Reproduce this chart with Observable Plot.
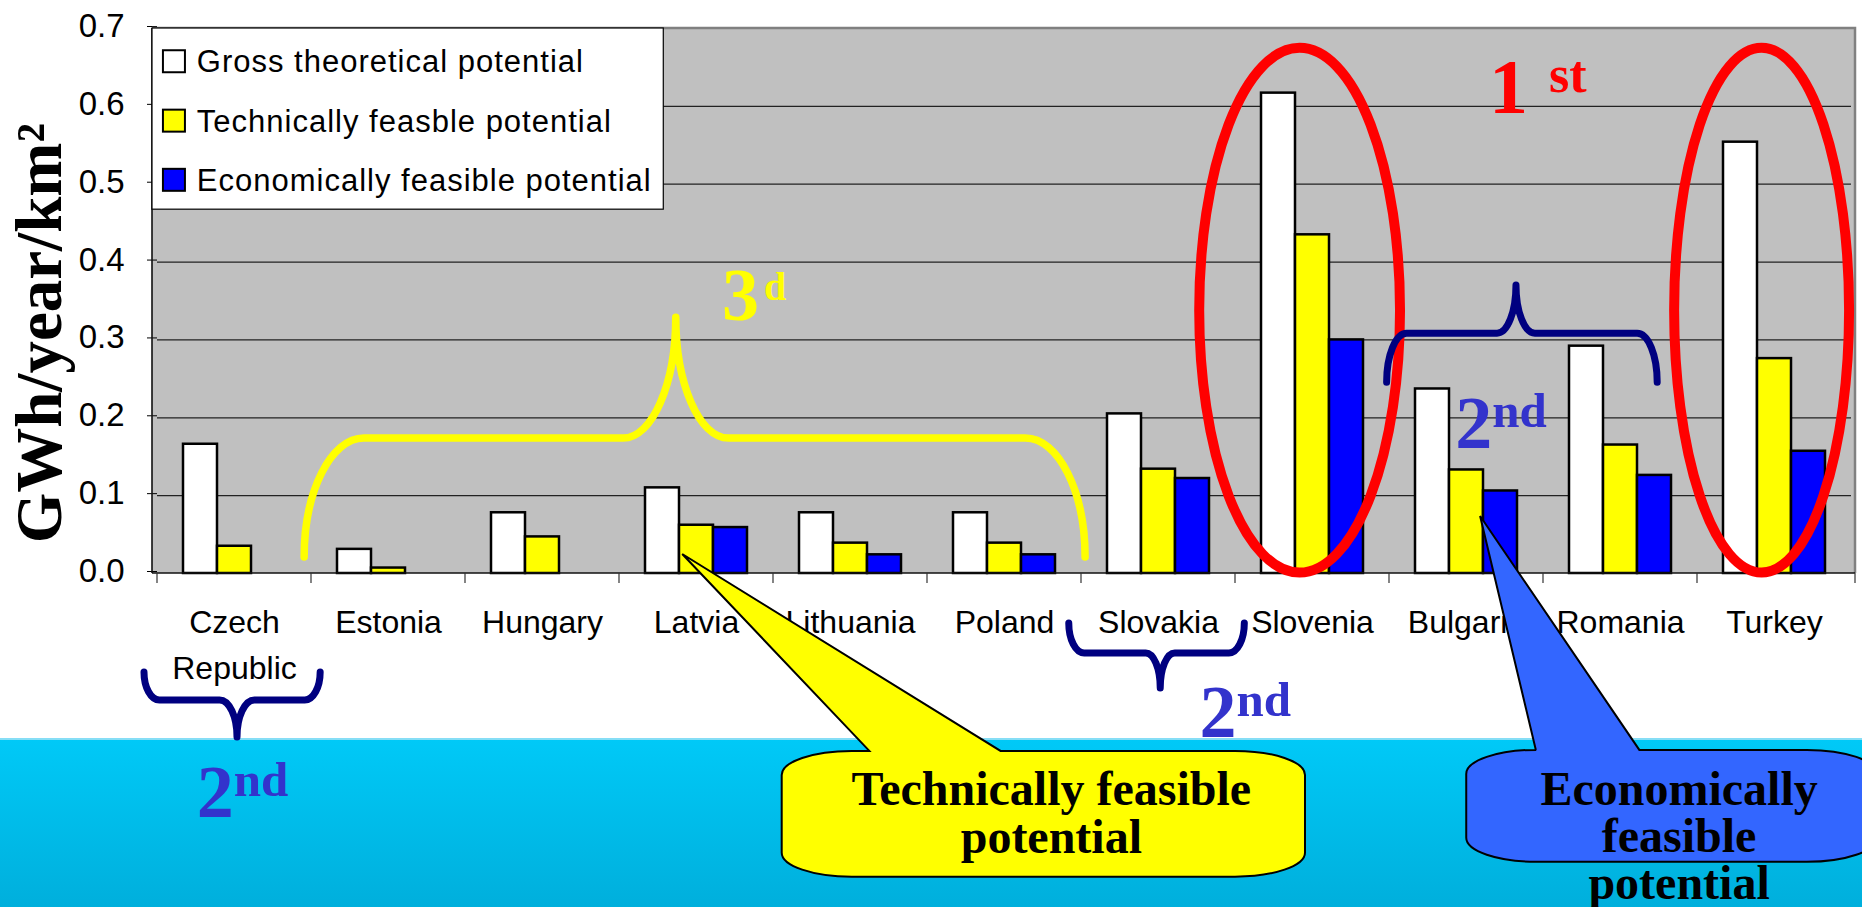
<!DOCTYPE html>
<html><head><meta charset="utf-8">
<script src="https://cdn.jsdelivr.net/npm/d3@7"></script>
<script src="https://cdn.jsdelivr.net/npm/@observablehq/plot@0.6"></script>
<style>
html,body{margin:0;padding:0;background:#fff;overflow:hidden}
#wrap{position:relative;width:1862px;height:907px}
#band{position:absolute;left:0;top:738px;width:1862px;height:169px;background:linear-gradient(#00c9f7,#00afdc);border-top:2px solid #86def6;box-sizing:border-box}
#chart{position:absolute;left:0;top:0}
</style></head><body><div id="wrap"><div id="band"></div><div id="chart"></div></div>
<script>
// ---- data ----
const countries = ["Czech Republic","Estonia","Hungary","Latvia","Lithuania","Poland","Slovakia","Slovenia","Bulgaria","Romania","Turkey"];
const countryLabels = ["Czech\nRepublic","Estonia","Hungary","Latvia","Lithuania","Poland","Slovakia","Slovenia","Bulgaria","Romania","Turkey"];
const seriesNames = ["Gross theoretical potential","Technically feasble potential","Economically feasible potential"];
const gross     = [0.166, 0.031, 0.078, 0.110, 0.078, 0.078, 0.205, 0.617, 0.237, 0.292, 0.554];
const technical = [0.035, 0.007, 0.047, 0.062, 0.039, 0.039, 0.134, 0.435, 0.133, 0.165, 0.276];
const economic  = [null,  null,  null,  0.059, 0.024, 0.024, 0.122, 0.300, 0.106, 0.126, 0.157];
const yTicks = [0, 0.1, 0.2, 0.3, 0.4, 0.5, 0.6, 0.7];
const seriesColors = ["#ffffff", "#ffff00", "#0000ff"];
const yTitle = "GWh/year/km²";

const rows = [];
countries.forEach((c, i) => {
  [gross, technical, economic].forEach((arr, j) => {
    if (arr[i] != null) rows.push({country: c, series: seriesNames[j], value: arr[i]});
  });
});

const plot = Plot.plot({
  width: 1862, height: 907,
  marginLeft: 152, marginRight: 7, marginTop: 28, marginBottom: 334,
  style: {fontFamily: "'Liberation Sans', Arial, sans-serif", fontSize: "31px", background: "transparent", color: "black"},
  fx: {domain: countries, padding: 0, label: null},
  x: {domain: seriesNames, paddingInner: 0, paddingOuter: 0.75, axis: null},
  y: {domain: [0, 0.7], label: null},
  color: {domain: seriesNames, range: seriesColors},
  marks: [
    Plot.gridY(yTicks.slice(1, -1), {stroke: "#222", strokeOpacity: 1, strokeWidth: 1.2}),
    Plot.barY(rows, {fx: "country", x: "series", y: "value", fill: "series", stroke: "black", strokeWidth: 2.5}),
    Plot.axisY(yTicks, {tickFormat: d3.format(".1f"), tickSize: 10, tickPadding: 23, fontSize: 33, dy: -2, label: null}),
    Plot.axisFx({anchor: "bottom", tickSize: 0, tickPadding: 27, fontSize: 32, lineHeight: 1.44, label: null,
      tickFormat: d => countryLabels[countries.indexOf(d)]})
  ]
});
document.getElementById("chart").appendChild(plot);

// ---- overlays positioned through the plot's scales ----
const fx = plot.scale("fx"), ys = plot.scale("y"), col = plot.scale("color");
const x0 = fx.range[0], x1 = fx.range[1], bw = fx.bandwidth;
const P = p => x0 + p * bw;          // p in category units
const Y = v => ys.apply(v);          // v in data units
const svg = d3.select(plot);
const NS = "http://www.w3.org/2000/svg";

const bg = document.createElementNS(NS, "rect");
plot.insertBefore(bg, plot.querySelector("g"));
d3.select(bg).attr("x", x0).attr("y", Y(0.7)).attr("width", x1 - x0).attr("height", Y(0) - Y(0.7)).attr("fill", "#c0c0c0");

const ov = svg.append("g").attr("text-anchor", "start");
ov.append("path").attr("d", `M${x0},${Y(0.7)}H${x1}V${Y(0)}`).attr("fill", "none").attr("stroke", "#808080").attr("stroke-width", 2.5);
ov.append("line").attr("x1", x0).attr("x2", x0).attr("y1", Y(0.7)).attr("y2", Y(0)).attr("stroke", "#111").attr("stroke-width", 1.6);
ov.append("line").attr("x1", x0).attr("x2", x1).attr("y1", Y(0)).attr("y2", Y(0)).attr("stroke", "#111").attr("stroke-width", 1.6);
[...countries.map(c => fx.apply(c)), x1].forEach(x => {
  ov.append("line").attr("x1", x).attr("x2", x).attr("y1", Y(0)).attr("y2", Y(0) + 10).attr("stroke", "#333").attr("stroke-width", 1.2);
});

// y title
ov.append("text").attr("transform", `translate(${P(-0.594)},${Y(0.308)}) rotate(-90)`)
  .attr("text-anchor", "middle").attr("font-family", "'Liberation Serif', 'Times New Roman', serif")
  .attr("font-weight", "bold").attr("font-size", 65).attr("fill", "black").text(yTitle);

// legend
const lg = ov.append("g");
lg.append("rect").attr("x", P(0)).attr("y", Y(0.7)).attr("width", P(3.32) - P(0)).attr("height", Y(0.4673) - Y(0.7))
  .attr("fill", "white").attr("stroke", "black").attr("stroke-width", 1.2);
const legendRows = [0.6573, 0.5810, 0.5050];
seriesNames.forEach((s, i) => {
  const cy = Y(legendRows[i]);
  lg.append("rect").attr("x", P(0.071)).attr("y", cy - 11).attr("width", 22).attr("height", 22)
    .attr("fill", col.apply(s)).attr("stroke", "black").attr("stroke-width", 2);
  lg.append("text").attr("x", P(0.291)).attr("y", cy + 11).attr("font-size", 31).attr("letter-spacing", 1)
    .attr("text-anchor", "start").attr("fill", "black").text(s);
});

// ellipses
[[7.452, 0.652], [10.452, 0.568]].forEach(([cx, rx]) => {
  ov.append("ellipse").attr("cx", P(cx)).attr("cy", Y(0.3376)).attr("rx", rx * bw).attr("ry", Y(0) - Y(0.337))
    .attr("fill", "none").attr("stroke", "#ff0000").attr("stroke-width", 10);
});

// braces
function brace(b) {
  const k = 0.552;
  const xl = P(b.xl), xr = P(b.xr), xp = P(b.xp), ye = Y(b.yEnd), yb = Y(b.yBar), yp = Y(b.yPeak), cw = b.cw * bw, pw = b.pw * bw;
  return `M${xl},${ye}C${xl},${ye + k * (yb - ye)} ${xl + cw - k * cw},${yb} ${xl + cw},${yb}` +
    `L${xp - pw},${yb}C${xp - pw + k * pw},${yb} ${xp},${yp + k * (yb - yp)} ${xp},${yp}` +
    `C${xp},${yp + k * (yb - yp)} ${xp + pw - k * pw},${yb} ${xp + pw},${yb}` +
    `L${xr - cw},${yb}C${xr - cw + k * cw},${yb} ${xr},${ye + k * (yb - ye)} ${xr},${ye}`;
}
const braces = [
  {xl: 0.988, xr: 6.059, xp: 3.401, yEnd: 0.0205, yBar: 0.1733, yPeak: 0.3286, cw: 0.388, pw: 0.342, color: "#ffff00", w: 7.5},
  {xl: 8.017, xr: 9.774, xp: 8.857, yEnd: 0.245, yBar: 0.308, yPeak: 0.370, cw: 0.13, pw: 0.123, color: "#000080", w: 7},
  {xl: -0.052, xr: 1.092, xp: 0.552, yEnd: -0.127, yBar: -0.163, yPeak: -0.2105, cw: 0.10, pw: 0.113, color: "#000080", w: 7},
  {xl: 5.953, xr: 7.093, xp: 6.547, yEnd: -0.0642, yBar: -0.1027, yPeak: -0.1476, cw: 0.10, pw: 0.094, color: "#000080", w: 7}
];
braces.forEach(b => ov.append("path").attr("d", brace(b)).attr("fill", "none").attr("stroke", b.color)
  .attr("stroke-width", b.w).attr("stroke-linecap", "round").attr("stroke-linejoin", "round"));

// rank labels
const serif = "'Liberation Serif', 'Times New Roman', serif";
function rank(p, v, big, sup, color, bigSize, supSize, rise, gap) {
  const t = ov.append("text").attr("x", P(p)).attr("y", Y(v)).attr("text-anchor", "start")
    .attr("font-family", serif).attr("font-weight", "bold").attr("fill", color);
  t.append("tspan").attr("font-size", bigSize).text(big);
  t.append("tspan").attr("font-size", supSize).attr("dx", gap).attr("dy", -rise).text(sup);
}
rank(8.682, 0.5905, "1", "st", "#ff0000", 78, 52, 21, 21);
rank(3.702, 0.3248, "3", "d", "#ffff00", 74, 40, 20, 5);
rank(8.463, 0.1605, "2", "nd", "#3333cc", 74, 49, 21, 0);
rank(0.291, -0.3132, "2", "nd", "#3333cc", 74, 49, 21, 0);
rank(6.802, -0.2105, "2", "nd", "#3333cc", 74, 49, 21, 0);

// callouts
function callout(c) {
  const l = P(c.l), r = P(c.r), t = Y(c.t), b = Y(c.b), rx = 70, ry = 24;
  return `M${l + rx},${t}L${P(c.bl)},${t}L${P(c.tipP)},${Y(c.tipV)}L${P(c.br)},${t}L${r - rx},${t}` +
    `A${rx},${ry} 0 0 1 ${r},${t + ry}L${r},${b - ry}A${rx},${ry} 0 0 1 ${r - rx},${b}` +
    `L${l + rx},${b}A${rx},${ry} 0 0 1 ${l},${b - ry}L${l},${t + ry}A${rx},${ry} 0 0 1 ${l + rx},${t}Z`;
}
const callouts = [
  {l: 4.089, r: 7.487, t: -0.2285, b: -0.390, tipP: 3.443, tipV: 0.0244, bl: 4.658, br: 5.510, fill: "#ffff00",
   textP: 5.84, lines: ["Technically feasible", "potential"], base: [-0.2978, -0.3594]},
  {l: 8.534, r: 11.2, t: -0.2272, b: -0.371, tipP: 8.624, tipV: 0.0732, bl: 8.986, br: 9.658, fill: "#3366ff",
   textP: 9.916, lines: ["Economically", "feasible", "potential"], base: [-0.2978, -0.3582, -0.4185]}
];
callouts.forEach(c => {
  ov.append("path").attr("d", callout(c)).attr("fill", c.fill).attr("stroke", "black").attr("stroke-width", 2);
  const t = ov.append("text").attr("text-anchor", "middle").attr("font-family", serif).attr("font-weight", "bold")
    .attr("font-size", 48).attr("fill", "black");
  c.lines.forEach((s, i) => t.append("tspan").attr("x", P(c.textP)).attr("y", Y(c.base[i])).text(s));
});
</script></body></html>
